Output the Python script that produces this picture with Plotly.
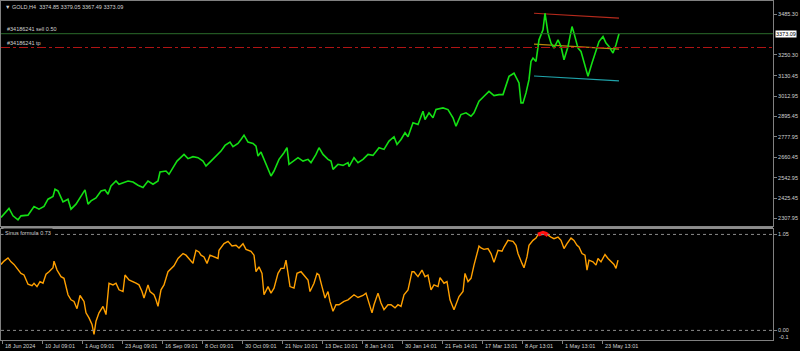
import plotly.graph_objects as go

# ---------------- data ----------------
bar_x = [0, 3, 8, 12, 17, 20, 27, 33, 38, 43, 47, 52, 54, 57, 62, 67, 70, 75, 80, 84,
         87, 90, 95, 100, 104, 107, 110, 115, 118, 123, 127, 132, 137, 142, 147, 152, 157, 159, 165, 168,
         172, 176, 183, 187, 192, 197, 202, 205, 210, 215, 220, 224, 229, 232, 237, 240, 243, 247, 252, 255,
         257, 260, 263, 266, 270, 273, 278, 283, 286, 288, 293, 297, 302, 307, 310, 315, 318, 322, 327, 330,
         332, 337, 342, 347, 348, 353, 357, 362, 367, 372, 378, 383, 388, 393, 396, 400, 404, 407, 412, 417,
         422, 424, 428, 432, 435, 442, 447, 452, 455, 460, 465, 470, 473, 478, 483, 488, 493, 498, 502, 507,
         508, 513, 517, 518, 520, 522, 525, 527, 528, 530, 532, 535, 538, 542, 544, 547, 550, 553, 557, 560,
         563, 567, 571, 573, 577, 580, 583, 587, 591, 595, 598, 602, 605, 608, 612, 615, 618]
price = [2313.7, 2332.6, 2365.4, 2322.9, 2299.9, 2322.9, 2326.9, 2376.9, 2361.4, 2376.9,
         2418.8, 2434.3, 2476.2, 2466.4, 2403.3, 2418.8, 2361.4, 2390.1, 2437.7, 2472.2,
         2390.1, 2409.0, 2426.3, 2466.4, 2472.2, 2447.5, 2495.2, 2523.9, 2504.9, 2514.7,
         2523.9, 2518.1, 2499.2, 2486.0, 2523.9, 2504.9, 2523.9, 2575.6, 2581.3, 2562.4,
         2600.8, 2638.7, 2677.2, 2652.5, 2664.0, 2658.3, 2638.7, 2610.0, 2638.7, 2667.5,
         2696.2, 2728.9, 2747.9, 2721.4, 2740.4, 2763.4, 2788.1, 2747.9, 2740.4, 2724.9,
         2667.5, 2690.4, 2648.5, 2610.0, 2552.6, 2581.3, 2648.5, 2687.0, 2715.7, 2619.8,
         2638.7, 2658.3, 2638.7, 2648.5, 2629.6, 2677.2, 2715.7, 2677.2, 2648.5, 2638.7,
         2591.1, 2619.8, 2614.0, 2629.6, 2606.6, 2658.3, 2629.6, 2648.5, 2677.2, 2671.5,
         2715.7, 2705.9, 2753.6, 2778.9, 2734.7, 2763.4, 2801.8, 2778.9, 2859.3, 2849.5,
         2925.9, 2878.2, 2916.7, 2888.0, 2935.7, 2945.4, 2935.7, 2888.0, 2839.8, 2907.0,
         2916.7, 2897.2, 2916.7, 2983.3, 3012.1, 3040.8, 3016.1, 3021.8, 3021.8, 3107.9,
         3126.9, 3145.0, 3098.2, 3089.0, 2974.1, 2974.1, 3031.6, 3098.2, 3107.9, 3213.0,
         3232.6, 3213.0, 3337.7, 3395.1, 3491.0, 3376.2, 3318.7, 3290.0, 3337.7, 3299.2,
         3222.8, 3299.2, 3414.1, 3376.2, 3290.0, 3270.5, 3203.9, 3126.9, 3203.9, 3270.5,
         3327.9, 3356.6, 3318.7, 3299.2, 3261.3, 3308.9, 3373.09]

osc_x = [0, 3, 7, 10, 13, 17, 20, 23, 27, 31, 33, 36, 39, 42, 45, 48, 52, 53, 56, 60,
         63, 67, 70, 73, 76, 79, 83, 85, 88, 91, 93, 95, 98, 102, 105, 108, 112, 115, 118, 122,
         124, 128, 132, 135, 138, 141, 143, 147, 149, 153, 155, 157, 160, 163, 167, 170, 173, 177, 182, 185,
         188, 192, 193, 195, 198, 200, 203, 206, 209, 213, 217, 218, 223, 227, 231, 235, 238, 242, 245, 250,
         253, 255, 258, 261, 263, 267, 270, 273, 277, 280, 283, 285, 287, 289, 293, 296, 300, 304, 307, 309,
         313, 316, 318, 321, 324, 327, 329, 332, 335, 338, 343, 347, 351, 353, 357, 362, 365, 368, 371, 373,
         377, 380, 383, 387, 390, 394, 397, 400, 403, 407, 411, 413, 417, 421, 424, 427, 430, 433, 437, 439,
         443, 446, 449, 453, 455, 458, 462, 464, 467, 470, 473, 475, 478, 480, 483, 487, 490, 493, 497, 501,
         503, 507, 512, 515, 517, 521, 523, 526, 528, 532, 535, 537, 542, 545, 547, 550, 553, 557, 560, 563,
         566, 570, 573, 576, 578, 581, 584, 586, 588, 592, 595, 597, 600, 604, 607, 610, 613, 615, 617]
osc = [0.722, 0.758, 0.793, 0.750, 0.722, 0.671, 0.624, 0.606, 0.505, 0.490,
       0.516, 0.479, 0.534, 0.516, 0.614, 0.642, 0.685, 0.758, 0.660, 0.588,
       0.570, 0.390, 0.335, 0.317, 0.238, 0.382, 0.317, 0.192, 0.137, 0.065,
       -0.043, 0.101, 0.192, 0.263, 0.173, 0.516, 0.498, 0.516, 0.444, 0.425,
       0.606, 0.552, 0.534, 0.516, 0.498, 0.425, 0.354, 0.498, 0.425, 0.390,
       0.335, 0.263, 0.444, 0.498, 0.642, 0.679, 0.707, 0.787, 0.841, 0.823,
       0.787, 0.733, 0.787, 0.877, 0.858, 0.823, 0.804, 0.733, 0.823, 0.804,
       0.787, 0.877, 0.949, 0.974, 0.923, 0.931, 0.902, 0.949, 0.887, 0.866,
       0.823, 0.642, 0.696, 0.624, 0.390, 0.479, 0.408, 0.462, 0.624, 0.679,
       0.679, 0.768, 0.606, 0.479, 0.462, 0.624, 0.642, 0.588, 0.552, 0.425,
       0.516, 0.624, 0.606, 0.479, 0.354, 0.425, 0.317, 0.209, 0.281, 0.281,
       0.317, 0.335, 0.371, 0.390, 0.360, 0.382, 0.408, 0.300, 0.192, 0.281,
       0.408, 0.300, 0.227, 0.281, 0.281, 0.246, 0.281, 0.263, 0.390, 0.444,
       0.642, 0.642, 0.588, 0.660, 0.588, 0.606, 0.444, 0.498, 0.479, 0.577,
       0.516, 0.534, 0.335, 0.227, 0.281, 0.371, 0.425, 0.624, 0.534, 0.570,
       0.714, 0.804, 0.923, 0.902, 0.887, 0.895, 0.841, 0.744, 0.877, 0.866,
       0.912, 0.985, 0.974, 0.931, 0.841, 0.733, 0.685, 0.804, 0.931, 0.985,
       1.010, 1.047, 1.068, 1.057, 1.039, 1.021, 1.003, 1.021, 0.985, 0.895,
       0.949, 1.010, 0.985, 0.931, 0.912, 0.841, 0.823, 0.660, 0.768, 0.750,
       0.714, 0.787, 0.750, 0.830, 0.787, 0.750, 0.722, 0.679, 0.768]
osc_alert_level = 1.035

time_tick_x = [1, 41, 81, 121, 161, 201, 241, 281, 321, 361, 401, 441, 481, 521, 561, 601]
time_tick_labels = ["18 Jun 2024", "10 Jul 09:01", "1 Aug 09:01", "23 Aug 09:01", "16 Sep 09:01",
                    "8 Oct 09:01", "30 Oct 09:01", "21 Nov 10:01", "13 Dec 10:01", "8 Jan 14:01",
                    "30 Jan 14:01", "21 Feb 14:01", "17 Mar 13:01", "8 Apr 13:01", "1 May 13:01",
                    "23 May 13:01"]
price_ticks = [2307.95, 2425.45, 2542.95, 2660.45, 2777.95, 2895.45, 3012.95, 3130.45, 3250.30, 3485.30]
price_tick_labels = ["2307.95", "2425.45", "2542.95", "2660.45", "2777.95", "2895.45",
                     "3012.95", "3130.45", "3250.30", "3485.30"]
osc_ticks = [1.05, 0.0]
osc_tick_labels = ["1.05", "0.00"]
osc_min_label = "-0.1"

last_price = 3373.09
sell_level = 3373.09
tp_level = 3293.4
channel_x = [533, 618]
channel_top = [3491.0, 3462.3]
channel_mid = [3313.0, 3284.3]
channel_bot = [3129.2, 3100.5]

title_text = "\u25bc GOLD,H4  3374.85 3379.05 3367.49 3373.09"
sell_label = "#34186241 sell 0.50"
tp_label = "#34186241 tp"
osc_label = "Sinus formula 0.73"

# ---------------- figure ----------------
GRID = "#808080"
TXT = "#d2d2d2"
FONT = "Liberation Sans"
FS = 5.5

fig = go.Figure()

# channel lines
fig.add_trace(go.Scatter(x=channel_x, y=channel_top, mode="lines",
                         line=dict(color="#b52a1c", width=1.2), xaxis="x", yaxis="y", hoverinfo="skip"))
fig.add_trace(go.Scatter(x=channel_x, y=channel_mid, mode="lines",
                         line=dict(color="#b8860b", width=1.2), xaxis="x", yaxis="y", hoverinfo="skip"))
fig.add_trace(go.Scatter(x=channel_x, y=channel_bot, mode="lines",
                         line=dict(color="#1fa3aa", width=1.2), xaxis="x", yaxis="y", hoverinfo="skip"))

# price
fig.add_trace(go.Scatter(x=bar_x, y=price, mode="lines",
                         line=dict(color="#14e014", width=1.6), xaxis="x", yaxis="y"))

# oscillator
fig.add_trace(go.Scatter(x=osc_x, y=osc, mode="lines",
                         line=dict(color="#ffa000", width=1.4), xaxis="x2", yaxis="y2"))
alert_x = [x for x, v in zip(osc_x, osc) if v >= osc_alert_level]
alert_y = [v for v in osc if v >= osc_alert_level]
fig.add_trace(go.Scatter(x=alert_x, y=alert_y, mode="lines",
                         line=dict(color="#ff1010", width=4), xaxis="x2", yaxis="y2"))

shapes = []
# order lines
shapes.append(dict(type="line", xref="x domain", yref="y", x0=0, x1=1, y0=sell_level, y1=sell_level,
                   line=dict(color="#2b6a2b", width=1)))
shapes.append(dict(type="line", xref="x domain", yref="y", x0=0, x1=1, y0=tp_level, y1=tp_level,
                   line=dict(color="#b01414", width=1, dash="dashdot")))
# oscillator levels
for lv in osc_ticks:
    shapes.append(dict(type="line", xref="x2 domain", yref="y2", x0=0, x1=1, y0=lv, y1=lv,
                       line=dict(color="#8a8a8a", width=1, dash="dot")))
# panel separator
shapes.append(dict(type="line", xref="paper", yref="paper", x0=0, x1=1, y0=0.3310, y1=0.3310,
                   line=dict(color="#8c8c8c", width=2.5)))

annotations = []
annotations.append(dict(text=title_text, xref="paper", yref="paper", x=0.003, y=0.997,
                        xanchor="left", yanchor="top", showarrow=False,
                        font=dict(family=FONT, size=FS, color=TXT)))
annotations.append(dict(text=sell_label, xref="paper", yref="y", x=0.005, y=sell_level,
                        xanchor="left", yanchor="bottom", showarrow=False, yshift=0,
                        font=dict(family=FONT, size=FS, color=TXT)))
annotations.append(dict(text=tp_label, xref="paper", yref="y", x=0.005, y=tp_level,
                        xanchor="left", yanchor="bottom", showarrow=False,
                        font=dict(family=FONT, size=FS, color=TXT)))
annotations.append(dict(text=osc_label, xref="paper", yref="paper", x=0.003, y=0.329,
                        xanchor="left", yanchor="top", showarrow=False, bgcolor="#000000",
                        borderpad=1, font=dict(family=FONT, size=FS, color=TXT)))
annotations.append(dict(text=f"{last_price:.2f}", xref="paper", yref="y", x=1.0, y=last_price,
                        xanchor="left", yanchor="middle", showarrow=False, xshift=2,
                        bgcolor="#ffffff", borderpad=0,
                        font=dict(family=FONT, size=FS, color="#000000")))
annotations.append(dict(text=osc_min_label, xref="paper", yref="paper", x=1.0, y=0.0,
                        xanchor="left", yanchor="middle", showarrow=False, xshift=4, yshift=3,
                        font=dict(family=FONT, size=FS, color=TXT)))
for tx, tl in zip(time_tick_x, time_tick_labels):
    annotations.append(dict(text=tl, xref="x2", yref="paper", x=tx, y=0, xanchor="left",
                            yanchor="top", showarrow=False, xshift=1, yshift=-1,
                            font=dict(family=FONT, size=FS, color=TXT)))

axis_common = dict(showgrid=False, zeroline=False, showline=True, linecolor=GRID, linewidth=1,
                   mirror=True)

fig.update_layout(
    width=800, height=351,
    margin=dict(l=1, r=27, t=1, b=11),
    paper_bgcolor="#000000", plot_bgcolor="#000000",
    showlegend=False,
    shapes=shapes, annotations=annotations,
    xaxis=dict(domain=[0, 1], range=[0, 772], anchor="y", showticklabels=False, ticks="",
               **axis_common),
    yaxis=dict(domain=[0.336, 1], range=[2263.7, 3561.6], side="right", anchor="x",
               tickvals=price_ticks, ticktext=price_tick_labels, ticks="outside", ticklen=3,
               tickcolor=GRID, tickfont=dict(family=FONT, size=FS, color=TXT), **axis_common),
    xaxis2=dict(domain=[0, 1], range=[0, 772], anchor="y2", matches="x", showticklabels=False,
                tickvals=time_tick_x, ticks="outside", ticklen=3, tickcolor=GRID, **axis_common),
    yaxis2=dict(domain=[0, 0.326], range=[-0.105, 1.104], side="right", anchor="x2",
                tickvals=osc_ticks, ticktext=osc_tick_labels, ticks="outside", ticklen=3,
                tickcolor=GRID, tickfont=dict(family=FONT, size=FS, color=TXT), **axis_common),
)

fig.write_html("out.html")
